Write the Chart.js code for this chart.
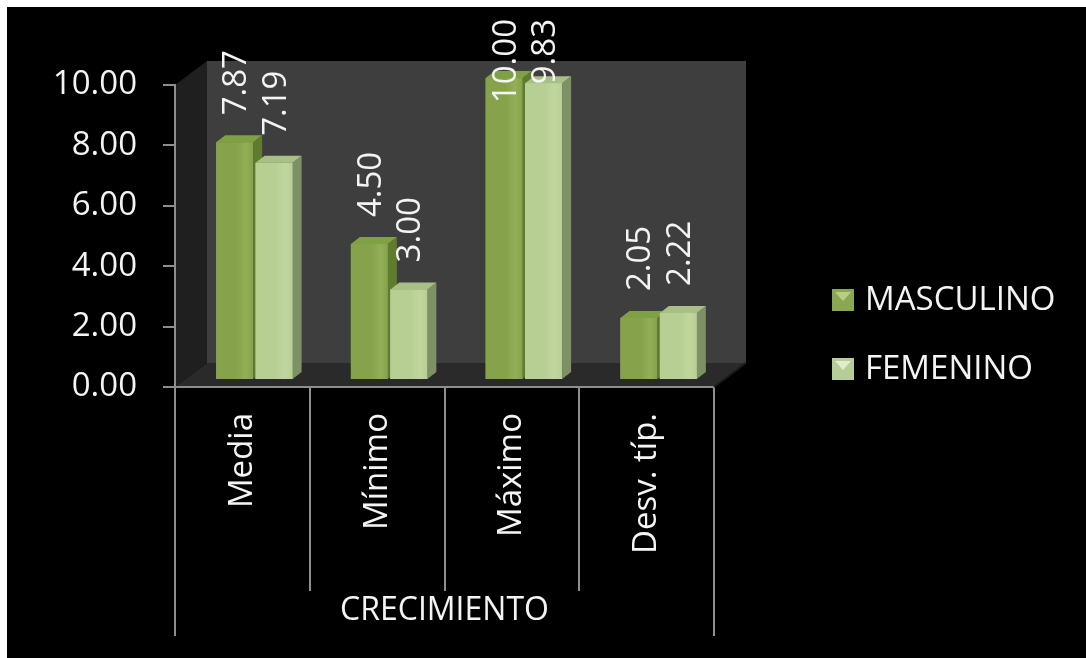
<!DOCTYPE html>
<html lang="es">
<head>
<meta charset="utf-8">
<title>Crecimiento</title>
<script src="https://cdn.jsdelivr.net/npm/chart.js@4.4.1/dist/chart.umd.min.js"></script>
<style>
  html, body { margin: 0; padding: 0; background: #fff; }
  canvas { display: block; }
</style>
</head>
<body>
<canvas id="graficoCrecimiento" width="1086" height="658"></canvas>
<script>
const categorias = ['Media', 'Mínimo', 'Máximo', 'Desv. típ.'];
const masculino = [7.87, 4.50, 10.00, 2.05];
const femenino = [7.19, 3.00, 9.83, 2.22];
const series = ['MASCULINO', 'FEMENINO'];
const tituloEje = 'CRECIMIENTO';
const ejeY = { min: 0, max: 10, paso: 2 };

const FUENTE = "'Open Sans', 'DejaVu Sans', sans-serif";
const GRIS_EJE = '#8e8e8e';

// colores de cada serie: cara frontal, techo, lateral y cuadro de leyenda
const colores = [
  { frente: '#86a24a', brillo: '#92b058', techo: '#80a044', lado: '#5e7b2e', leyenda: '#8aa852', punta: '#b8cf83' },
  { frente: '#b8cf94', brillo: '#c0d69e', techo: '#a8c086', lado: '#7d9066', leyenda: '#b7cd97', punta: '#e2edcf' }
];

// desplazamiento de las barras hacia el fondo y profundidad de paredes / barras
const DX = 12, DY = -7;
const PARED_X = 32, PARED_Y = -24;
const CARA_X = 9, CARA_Y = -7;

function caras(ctx, el, c) {
  const { x, y, base, width } = el.getProps(['x', 'y', 'base', 'width'], true);
  const izq = x - width / 2, der = x + width / 2;
  // degradado suave en la cara frontal
  const g = ctx.createLinearGradient(izq, 0, der, 0);
  g.addColorStop(0, c.frente);
  g.addColorStop(0.55, c.frente);
  g.addColorStop(0.8, c.brillo);
  g.addColorStop(1, c.frente);
  ctx.fillStyle = g;
  ctx.fillRect(izq, y, width, base - y);
  // lateral derecho
  ctx.fillStyle = c.lado;
  ctx.beginPath();
  ctx.moveTo(der, y);
  ctx.lineTo(der + CARA_X, y + CARA_Y);
  ctx.lineTo(der + CARA_X, base + CARA_Y);
  ctx.lineTo(der, base);
  ctx.closePath();
  ctx.fill();
  // techo
  ctx.fillStyle = c.techo;
  ctx.beginPath();
  ctx.moveTo(izq, y);
  ctx.lineTo(der, y);
  ctx.lineTo(der + CARA_X, y + CARA_Y);
  ctx.lineTo(izq + CARA_X, y + CARA_Y);
  ctx.closePath();
  ctx.fill();
}

const efecto3d = {
  id: 'efecto3d',
  beforeDraw(chart) {
    const { ctx, chartArea: a, width, height } = chart;
    ctx.save();
    ctx.fillStyle = '#fff';
    ctx.fillRect(0, 0, width, height);
    ctx.fillStyle = '#000';
    ctx.fillRect(7, 7, width - 7, height - 7);

    // pared lateral
    ctx.fillStyle = '#1f1f1f';
    ctx.beginPath();
    ctx.moveTo(a.left, a.top);
    ctx.lineTo(a.left + PARED_X, a.top + PARED_Y);
    ctx.lineTo(a.left + PARED_X, a.bottom + PARED_Y);
    ctx.lineTo(a.left, a.bottom);
    ctx.closePath();
    ctx.fill();
    // pared del fondo
    ctx.fillStyle = '#3e3e3e';
    ctx.fillRect(a.left + PARED_X, a.top + PARED_Y, a.right - a.left, a.bottom - a.top);
    // suelo
    ctx.fillStyle = '#2a2a2a';
    ctx.beginPath();
    ctx.moveTo(a.left, a.bottom);
    ctx.lineTo(a.right, a.bottom);
    ctx.lineTo(a.right + PARED_X, a.bottom + PARED_Y);
    ctx.lineTo(a.left + PARED_X, a.bottom + PARED_Y);
    ctx.closePath();
    ctx.fill();
    ctx.restore();
  },
  beforeDatasetsDraw(chart) {
    chart.ctx.save();
    chart.ctx.translate(DX, DY);
  },
  afterDatasetsDraw(chart) {
    const ctx = chart.ctx;
    const m0 = chart.getDatasetMeta(0).data;
    const m1 = chart.getDatasetMeta(1).data;
    // caras ocultas: la barra clara vuelve a pintarse delante del lateral oscuro
    for (let i = 0; i < m0.length; i++) {
      caras(ctx, m0[i], colores[0]);
      m1[i].draw(ctx);
      caras(ctx, m1[i], colores[1]);
    }
    ctx.restore();

    // etiquetas de valor, giradas
    ctx.save();
    ctx.font = '33px ' + FUENTE;
    ctx.fillStyle = '#f4f4f4';
    ctx.textAlign = 'left';
    ctx.textBaseline = 'middle';
    chart.data.datasets.forEach((ds, d) => {
      chart.getDatasetMeta(d).data.forEach((el, i) => {
        const texto = ds.data[i].toFixed(2);
        const w = ctx.measureText(texto).width;
        let abajo = el.y + DY - 27;
        if (abajo - w < 19) abajo = 19 + w;
        ctx.save();
        ctx.translate(el.x + DX + 2, abajo);
        ctx.rotate(-Math.PI / 2);
        ctx.fillText(texto, 0, 0);
        ctx.restore();
      });
    });
    ctx.restore();
  },
  afterDraw(chart) {
    const { ctx, chartArea: a } = chart;
    const x = chart.scales.x;
    const ancho = (a.right - a.left) / categorias.length;
    ctx.save();
    // separadores entre categorías
    ctx.strokeStyle = GRIS_EJE;
    ctx.lineWidth = 2;
    for (let k = 0; k <= categorias.length; k++) {
      const px = Math.round(x.getPixelForValue(0) - ancho / 2 + k * ancho);
      const fin = (k === 0 || k === categorias.length) ? a.bottom + 249 : a.bottom + 204;
      ctx.beginPath();
      ctx.moveTo(px, a.bottom);
      ctx.lineTo(px, fin);
      ctx.stroke();
    }
    // diagonal del suelo a la derecha
    ctx.strokeStyle = '#1a1a1a';
    ctx.beginPath();
    ctx.moveTo(a.right, a.bottom);
    ctx.lineTo(a.right + PARED_X, a.bottom + PARED_Y);
    ctx.stroke();

    // leyenda
    ctx.font = '33px ' + FUENTE;
    ctx.textAlign = 'left';
    ctx.textBaseline = 'middle';
    series.forEach((nombre, s) => {
      const cx = a.right + 118, cy = 300 + s * 69, t = 22;
      const c = colores[s];
      ctx.fillStyle = c.leyenda;
      ctx.fillRect(cx, cy - t / 2, t, t);
      ctx.fillStyle = c.punta;
      ctx.beginPath();
      ctx.moveTo(cx + 3, cy - t / 2 + 3);
      ctx.lineTo(cx + t - 3, cy - t / 2 + 3);
      ctx.lineTo(cx + t / 2, cy + 1);
      ctx.closePath();
      ctx.fill();
      ctx.fillStyle = '#f4f4f4';
      ctx.fillText(nombre, cx + 33, cy + 1);
    });
    ctx.restore();
  }
};

const canvas = document.getElementById('graficoCrecimiento');

new Chart(canvas, {
  type: 'bar',
  data: {
    labels: categorias,
    datasets: [
      { label: series[0], data: masculino, backgroundColor: colores[0].frente },
      { label: series[1], data: femenino, backgroundColor: colores[1].frente }
    ]
  },
  options: {
    responsive: false,
    animation: false,
    devicePixelRatio: 1,
    categoryPercentage: 0.586,
    barPercentage: 0.937,
    layout: { padding: { left: 0, top: 85, right: 372, bottom: 28 } },
    plugins: {
      legend: { display: false },
      tooltip: { enabled: false }
    },
    scales: {
      y: {
        min: ejeY.min,
        max: ejeY.max,
        afterFit: s => { s.width = 175; },
        ticks: {
          stepSize: ejeY.paso,
          padding: 26,
          color: '#f4f4f4',
          font: { family: FUENTE, size: 33 },
          callback: v => Number(v).toFixed(2)
        },
        grid: { drawOnChartArea: false, drawTicks: true, tickLength: 12, color: GRIS_EJE, lineWidth: 2 },
        border: { display: true, color: GRIS_EJE, width: 2 }
      },
      x: {
        afterFit: s => { s.height = 243; },
        ticks: {
          minRotation: 90,
          maxRotation: 90,
          autoSkip: false,
          padding: 26,
          color: '#f4f4f4',
          font: { family: FUENTE, size: 33 }
        },
        grid: { display: false, drawTicks: false },
        border: { display: true, color: GRIS_EJE, width: 2 },
        title: {
          display: true,
          text: tituloEje,
          color: '#f4f4f4',
          padding: 0,
          font: { family: FUENTE, size: 32 }
        }
      }
    }
  },
  plugins: [efecto3d]
});
</script>
</body>
</html>
